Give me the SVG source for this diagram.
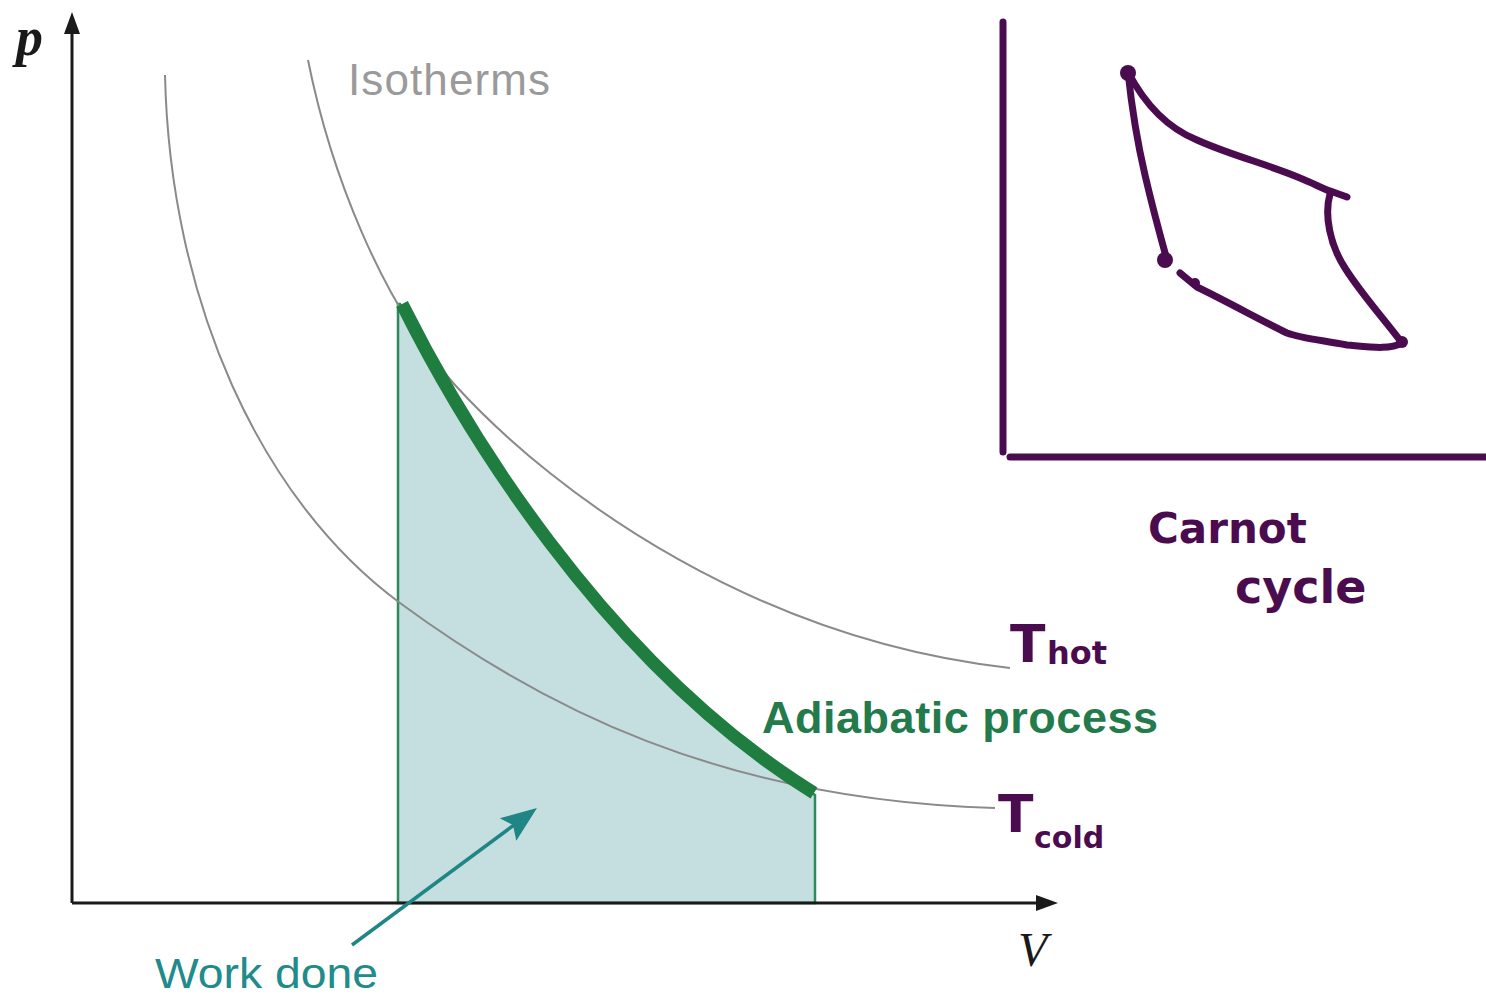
<svg xmlns="http://www.w3.org/2000/svg" width="1486" height="999" viewBox="0 0 1486 999">
<style>
.axis{stroke:#1a1a1a;stroke-width:3;fill:none}
.iso{stroke:#8a8a8a;stroke-width:2;fill:none}
.purple{stroke:#4b0c4f;stroke-width:7;fill:none;stroke-linecap:round;stroke-linejoin:round}
.hand{fill:#4b0c4f;font-family:"DejaVu Sans",sans-serif;font-weight:bold}
.math{font-family:"Liberation Serif",serif;font-style:italic;fill:#1a1a1a}
</style>
<rect width="1486" height="999" fill="#ffffff"/>
<g id="work-area">
<path d="M398,903 L398,304 L400,304 C460,420 600,660 815,795 L815,903 Z" fill="#c5dedf" stroke="#2e8a5c" stroke-width="2.5"/>
</g>
<g id="isotherm-hot">
<path class="iso" d="M308,60 C330,170 380,300 455,385 C560,500 760,640 1010,668"/>
</g>
<g id="isotherm-cold">
<path class="iso" d="M165,75 C170,300 260,500 400,603 C540,706 720,800 995,808"/>
</g>
<g id="adiabatic">
<path d="M402,304 C460,420 600,660 814,793" stroke="#1f7d40" stroke-width="13" fill="none"/>
</g>
<g id="axes">
<line class="axis" x1="72" y1="903" x2="72" y2="30"/>
<polygon points="72,12 64,34 80,34" fill="#1a1a1a"/>
<line class="axis" x1="72" y1="903" x2="1040" y2="903"/>
<polygon points="1058,903 1036,895 1036,911" fill="#1a1a1a"/>
<text class="math" x="16" y="55" font-size="54" font-weight="bold">p</text>
<text class="math" x="1018" y="966" font-size="48">V</text>
</g>
<g id="labels">
<text x="348" y="95" font-family="Liberation Sans, sans-serif" font-size="44" fill="#9a9a9a" textLength="202">Isotherms</text>
<text x="762" y="733" font-family="Liberation Sans, sans-serif" font-size="45" font-weight="bold" fill="#237a4b" textLength="396">Adiabatic process</text>
<text x="155" y="988" font-family="Liberation Sans, sans-serif" font-size="42" fill="#218a8a" textLength="223" lengthAdjust="spacingAndGlyphs">Work done</text>
</g>
<g id="connectors">
<line x1="352" y1="945" x2="514" y2="825" stroke="#1f8585" stroke-width="3.5"/>
<polygon points="537,808 516.3,840.8 513,825 499.7,818.2" fill="#1f8585"/>
</g>
<g id="temp-labels">
<text class="hand" x="1010" y="662" font-size="52">T</text>
<text class="hand" x="1047" y="664" font-size="32">hot</text>
<text class="hand" x="998" y="832" font-size="52">T</text>
<text class="hand" x="1034" y="848" font-size="30">cold</text>
</g>
<g id="carnot-inset">
<line class="purple" x1="1003" y1="22" x2="1003" y2="452"/>
<line class="purple" x1="1010" y1="457" x2="1490" y2="457"/>
<path class="purple" d="M1128,72 C1140,95 1160,125 1197,140 C1230,155 1270,165 1300,178 C1315,184 1325,190 1333,192 L1347,197"/>
<path class="purple" d="M1330,194 C1324,215 1330,245 1345,268 C1362,295 1385,320 1402,343"/>
<path class="purple" d="M1402,343 C1390,350 1370,347 1347,345 C1320,340 1300,338 1287,333 C1260,320 1230,303 1197,287 L1180,273"/>
<path class="purple" d="M1167,260 C1160,235 1152,205 1145,175 C1138,145 1132,110 1128,72"/>
<circle cx="1128" cy="73" r="8" fill="#4b0c4f"/>
<circle cx="1165" cy="260" r="8" fill="#4b0c4f"/>
<circle cx="1195" cy="283" r="5" fill="#4b0c4f"/>
<circle cx="1402" cy="342" r="6" fill="#4b0c4f"/>
<text class="hand" x="1148" y="543" font-size="42">Carnot</text>
<text class="hand" x="1235" y="603" font-size="46">cycle</text>
</g>
</svg>
